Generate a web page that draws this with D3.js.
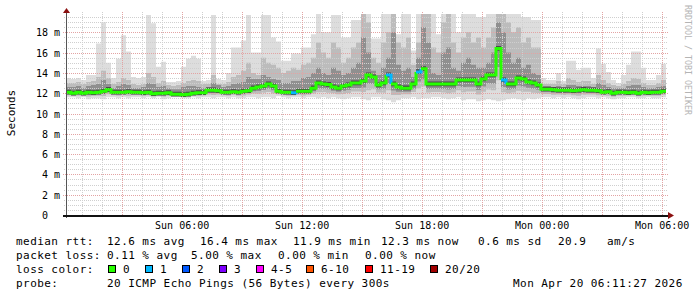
<!DOCTYPE html>
<html>
<head>
<meta charset="utf-8">
<style>
  body { margin: 0; background: #fff; }
  svg text { font-family: 'DejaVu Sans Mono', monospace; fill: #000; }
  .axis-label { font-size: 10px; }
  .legend { font-size: 11px; letter-spacing: 0.45px; }
</style>
</head>
<body>
<div id="chart"></div>
<script src="https://cdn.jsdelivr.net/npm/d3@7"></script>
<script>
const width = 697, height = 297
const plot = {left: 66, right: 666, top: 12, bottom: 215}

// 30 hours ending at the graph timestamp, one value every 15 minutes
const endTime = new Date(2026, 3, 20, 6, 11, 27)
const startTime = d3.timeHour.offset(endTime, -30)
const stepMinutes = 15

// median rtt (ms)
const medianRtt = [
  12.1, 12.0, 12.1, 12.0, 12.1, 12.05, 12.1, 12.2, 12.35, 12.1,
  12.1, 12.1, 12.15, 12.1, 12.1, 12.05, 12.1, 11.95, 12.0, 12.0,
  12.05, 11.9, 11.9, 11.85, 11.9, 12.0, 12.05, 12.05, 12.3, 12.3,
  12.25, 12.1, 12.1, 12.15, 12.1, 12.2, 12.25, 12.5, 12.6, 12.7,
  12.9, 12.7, 12.2, 12.1, 12.1, 12.05, 12.2, 12.2, 12.2, 12.5,
  13.0, 12.9, 12.85, 12.6, 12.5, 12.7, 12.8, 13.0, 13.0, 13.2,
  13.8, 13.6, 12.8, 13.0, 13.8, 12.9, 12.6, 12.5, 12.5, 12.9,
  14.1, 14.4, 12.9, 12.9, 12.9, 12.9, 12.9, 12.9, 13.3, 13.3,
  13.3, 13.3, 12.9, 13.4, 13.8, 13.8, 16.4, 13.3, 12.9, 12.9,
  13.5, 13.4, 13.1, 13.0, 12.8, 12.4, 12.4, 12.35, 12.3, 12.3,
  12.3, 12.25, 12.3, 12.35, 12.3, 12.3, 12.25, 12.1, 12.15, 12.0,
  12.1, 12.1, 12.05, 12.1, 12.0, 12.1, 12.05, 12.1, 12.1, 12.2
]

// lost pings out of 20
const lossCount = [
  0, 0, 0, 0, 0, 0, 0, 0, 0, 0,
  0, 0, 0, 0, 0, 0, 0, 0, 0, 0,
  0, 0, 0, 0, 0, 0, 0, 0, 0, 0,
  0, 0, 0, 0, 0, 0, 0, 0, 0, 0,
  0, 0, 0, 0, 0, 1, 0, 0, 0, 0,
  0, 0, 0, 0, 0, 0, 0, 0, 0, 0,
  0, 0, 0, 0, 1, 0, 0, 0, 0, 0,
  1, 0, 0, 0, 0, 0, 0, 0, 0, 0,
  0, 0, 0, 0, 0, 0, 0, 1, 0, 0,
  0, 0, 0, 0, 0, 0, 0, 0, 0, 0,
  0, 0, 0, 0, 0, 0, 0, 0, 0, 0,
  0, 0, 0, 0, 0, 0, 0, 0, 0, 0
]

// fastest ping
const pingMin = [
  11.6, 11.6, 11.5, 11.6, 11.4, 11.5, 11.5, 11.4, 11.6, 11.6,
  11.5, 11.6, 11.5, 11.6, 11.6, 11.5, 11.6, 11.5, 11.6, 11.4,
  11.5, 11.6, 11.6, 11.5, 11.5, 11.6, 11.5, 11.6, 11.6, 11.5,
  11.6, 11.6, 11.5, 11.6, 11.5, 11.5, 11.6, 11.6, 11.5, 11.6,
  11.6, 11.5, 11.7, 11.6, 11.5, 11.6, 11.6, 11.5, 11.6, 11.6,
  11.5, 11.6, 11.5, 11.6, 11.5, 11.4, 11.5, 11.6, 11.6, 11.4,
  11.3, 11.6, 11.6, 11.4, 11.3, 11.1, 11.3, 11.5, 11.5, 11.6,
  11.4, 11.5, 11.5, 11.6, 11.6, 11.5, 11.4, 11.5, 11.6, 11.3,
  11.4, 11.4, 11.2, 11.3, 11.4, 11.3, 11.2, 11.3, 11.4, 11.5,
  11.4, 11.3, 11.5, 11.4, 11.5, 11.6, 11.6, 11.5, 11.6, 11.5,
  11.6, 11.5, 11.4, 11.5, 11.6, 11.6, 11.5, 11.6, 11.5, 11.4,
  11.5, 11.5, 11.6, 11.6, 11.5, 11.5, 11.6, 11.5, 11.5, 11.6
]

// 15th of 20 pings
const pingP75 = [
  12.6, 12.6, 12.7, 12.5, 12.7, 12.8, 12.9, 13.3, 12.9, 12.5,
  12.7, 12.9, 12.8, 12.5, 12.5, 12.6, 13.0, 12.9, 12.6, 12.7,
  12.5, 12.4, 12.4, 12.6, 12.7, 12.7, 12.6, 12.5, 12.6, 13.0,
  12.8, 12.6, 12.7, 12.9, 13.0, 13.1, 13.6, 13.4, 13.4, 13.8,
  13.6, 13.4, 13.3, 13.0, 13.0, 13.2, 13.2, 13.5, 13.6, 14.0,
  14.5, 14.0, 13.8, 14.5, 14.2, 13.8, 14.0, 14.5, 15.0, 17.5,
  16.0, 14.2, 13.8, 14.5, 15.5, 18.0, 14.8, 14.2, 14.5, 13.6,
  15.5, 18.5, 17.0, 14.0, 13.8, 16.0, 16.5, 14.5, 14.2, 15.0,
  15.5, 14.8, 14.5, 14.5, 15.0, 16.0, 19.0, 18.0, 16.0, 15.0,
  15.5, 14.5, 14.8, 14.0, 13.8, 12.6, 12.6, 12.6, 12.7, 12.6,
  12.8, 12.8, 12.7, 12.7, 12.7, 12.6, 13.0, 12.8, 12.6, 12.5,
  12.5, 12.5, 12.7, 12.8, 12.8, 12.6, 12.5, 12.5, 12.6, 12.7
]

// 18th of 20 pings
const pingP90 = [
  13.0, 13.0, 13.1, 12.9, 13.1, 13.2, 13.6, 14.2, 13.5, 12.9,
  13.1, 13.5, 13.3, 12.9, 12.8, 12.9, 14.0, 13.6, 13.0, 13.2,
  12.8, 12.7, 12.8, 13.0, 13.2, 13.3, 13.2, 12.9, 12.9, 13.8,
  12.9, 12.9, 13.1, 13.6, 13.8, 14.2, 15.0, 14.0, 13.8, 15.5,
  15.0, 14.8, 14.5, 14.0, 14.2, 14.5, 14.3, 14.8, 15.0, 15.5,
  17.0, 16.0, 15.5, 17.0, 16.5, 15.0, 15.5, 16.5, 17.0, 19.8,
  19.0, 15.5, 15.0, 17.0, 18.0, 19.8, 17.0, 16.5, 17.5, 14.8,
  17.0, 19.8, 19.8, 16.5, 16.0, 19.0, 19.8, 17.0, 16.0, 17.5,
  18.0, 17.0, 17.5, 16.5, 17.5, 18.5, 19.8, 19.8, 19.0, 18.0,
  18.5, 17.0, 17.5, 16.5, 16.5, 12.9, 12.9, 12.9, 13.2, 12.9,
  13.5, 13.3, 13.1, 13.2, 13.2, 12.9, 13.8, 13.3, 13.0, 12.8,
  12.7, 12.9, 13.2, 13.5, 13.4, 13.0, 12.8, 12.8, 13.0, 13.3
]

// slowest ping
const pingMax = [
  13.5, 13.4, 13.5, 13.3, 13.8, 13.8, 16.9, 19.0, 15.0, 13.5,
  15.4, 17.7, 16.1, 13.6, 13.5, 13.6, 19.7, 18.9, 14.6, 15.1,
  13.1, 13.1, 13.2, 14.6, 15.4, 15.7, 15.4, 13.2, 13.3, 19.7,
  13.4, 13.3, 14.0, 16.5, 16.5, 17.2, 19.7, 16.0, 16.0, 19.7,
  19.7, 17.5, 17.1, 15.2, 15.2, 15.9, 15.9, 16.5, 16.5, 17.8,
  19.8, 18.0, 18.0, 19.7, 19.7, 17.5, 17.5, 19.2, 19.2, 19.8,
  19.8, 17.4, 17.4, 19.8, 19.8, 19.8, 17.8, 19.8, 19.8, 16.2,
  19.8, 19.8, 19.8, 19.8, 17.8, 19.8, 19.8, 19.8, 18.0, 19.8,
  19.8, 19.8, 19.5, 19.5, 19.8, 19.8, 19.8, 19.8, 19.8, 19.8,
  19.8, 19.5, 19.5, 19.2, 19.2, 13.5, 13.3, 13.3, 14.0, 13.2,
  15.2, 15.2, 14.3, 14.5, 14.5, 13.5, 16.4, 14.9, 14.1, 13.3,
  13.0, 13.8, 14.8, 16.1, 16.1, 14.5, 13.3, 13.3, 13.8, 14.9
]

const yTicks = [0, 2, 4, 6, 8, 10, 12, 14, 16, 18]

const lossLabels = ['0', '1', '2', '3', '4-5', '6-10', '11-19', '20/20']
const lossColors = ['#26ff00', '#00b8ff', '#0059ff', '#7e00ff', '#ff00ff', '#ff5500', '#ff0000', '#a10000']

const legendRows = [
  [[16, 'median rtt:'], [107, '12.6 ms avg'], [200, '16.4 ms max'], [293, '11.9 ms min'], [381, '12.3 ms now'], [478, '0.6 ms sd'], [558, '20.9'], [607, 'am/s']],
  [[16, 'packet loss:'], [107, '0.11 % avg'], [191, '5.00 % max'], [278, '0.00 % min'], [365, '0.00 % now']],
  [[16, 'loss color:']],
  [[16, 'probe:'], [107, '20 ICMP Echo Pings (56 Bytes) every 300s'], [513, 'Mon Apr 20 06:11:27 2026']]
]

function lossBucket(n) {
  if (n <= 3) return n
  if (n <= 5) return 4
  if (n <= 10) return 5
  if (n <= 19) return 6
  return 7
}

const times = d3.range(medianRtt.length + 1).map(i => d3.timeMinute.offset(startTime, i * stepMinutes))
const last = medianRtt.length - 1
const at = i => Math.min(i, last)

const x = d3.scaleTime().domain([startTime, endTime]).range([plot.left, plot.right])
const y = d3.scaleLinear().domain([0, 20]).range([plot.bottom, plot.top]).clamp(true)

const svg = d3.select('#chart').append('svg')
  .attr('width', width)
  .attr('height', height)

svg.append('rect').attr('width', width).attr('height', height).attr('fill', '#fff')

svg.append('clipPath').attr('id', 'clip')
  .append('rect')
  .attr('x', plot.left).attr('y', plot.top)
  .attr('width', plot.right - plot.left).attr('height', plot.bottom - plot.top)

// smoke: lighter outside, darker toward the median
const bands = [
  {color: '#dddddd', lo: i => pingMin[i], hi: i => pingMax[i]},
  {color: '#bcbcbc', lo: i => medianRtt[i] - 0.6 * (medianRtt[i] - pingMin[i]), hi: i => pingP90[i]},
  {color: '#8f8f8f', lo: i => medianRtt[i] - 0.35 * (medianRtt[i] - pingMin[i]), hi: i => pingP75[i]},
  {color: '#4a4a4a', lo: i => medianRtt[i] - 0.22, hi: i => medianRtt[i] + 0.25}
]

const smoke = svg.append('g').attr('clip-path', 'url(#clip)')
bands.forEach(b => {
  const area = d3.area()
    .x(i => x(times[i]))
    .y0(i => y(b.lo(at(i))))
    .y1(i => y(b.hi(at(i))))
    .curve(d3.curveStepAfter)
  smoke.append('path')
    .attr('d', area(d3.range(times.length)))
    .attr('fill', b.color)
})

// grid
const grid = svg.append('g').attr('shape-rendering', 'crispEdges')
const majorHours = x.ticks(d3.timeHour.every(3))
const minorHours = x.ticks(d3.timeHour.every(1)).filter(d => d.getHours() % 3 !== 0)
const minorMs = d3.range(0.5, 20, 0.5).filter(v => v % 2 !== 0)
const majorMs = yTicks.filter(v => v > 0)

grid.selectAll('.hminor').data(minorMs).enter().append('line')
  .attr('x1', plot.left - 2).attr('x2', plot.right + 2)
  .attr('y1', d => Math.round(y(d)) + 0.5).attr('y2', d => Math.round(y(d)) + 0.5)
  .attr('stroke', '#cfcfcf').attr('stroke-dasharray', '1,1')
grid.selectAll('.vminor').data(minorHours).enter().append('line')
  .attr('x1', d => Math.round(x(d)) + 0.5).attr('x2', d => Math.round(x(d)) + 0.5)
  .attr('y1', plot.top).attr('y2', plot.bottom + 2)
  .attr('stroke', '#cfcfcf').attr('stroke-dasharray', '1,1')
grid.selectAll('.hmajor').data(majorMs).enter().append('line')
  .attr('x1', plot.left - 3).attr('x2', plot.right + 2)
  .attr('y1', d => Math.round(y(d)) + 0.5).attr('y2', d => Math.round(y(d)) + 0.5)
  .attr('stroke', '#e3a3a3').attr('stroke-dasharray', '1,1')
grid.selectAll('.vmajor').data(majorHours).enter().append('line')
  .attr('x1', d => Math.round(x(d)) + 0.5).attr('x2', d => Math.round(x(d)) + 0.5)
  .attr('y1', plot.top).attr('y2', plot.bottom + 3)
  .attr('stroke', '#e3a3a3').attr('stroke-dasharray', '1,1')

// median line, one path per run of equal loss colour
const runs = []
medianRtt.forEach((v, i) => {
  const b = lossBucket(lossCount[i])
  const cur = runs[runs.length - 1]
  if (cur && cur.bucket === b) cur.end = i
  else runs.push({bucket: b, start: i, end: i})
})
const medianLine = d3.line()
  .x(i => x(times[i]))
  .y(i => y(medianRtt[at(i)]))
  .curve(d3.curveStepAfter)
const lineG = svg.append('g').attr('clip-path', 'url(#clip)')
runs.forEach(r => {
  const idx = d3.range(r.start, r.end + 1)
  idx.push(r.end + 1)
  lineG.append('path')
    .attr('d', medianLine(idx.map(i => i)).replace(/NaN/g, '0'))
    .attr('fill', 'none')
    .attr('stroke', lossColors[r.bucket])
    .attr('stroke-width', 3)
})

// axes
svg.append('line')
  .attr('x1', plot.left + 0.5).attr('x2', plot.left + 0.5)
  .attr('y1', plot.bottom + 3).attr('y2', plot.top)
  .attr('stroke', '#555').attr('shape-rendering', 'crispEdges')
svg.append('line')
  .attr('x1', plot.left - 3).attr('x2', plot.right + 2)
  .attr('y1', plot.bottom + 0.5).attr('y2', plot.bottom + 0.5)
  .attr('stroke', '#111').attr('stroke-width', 2).attr('shape-rendering', 'crispEdges')
svg.append('path')
  .attr('d', `M${plot.left - 3},${plot.top + 1} L${plot.left + 0.5},${plot.top - 4} L${plot.left + 4},${plot.top + 1} Z`)
  .attr('fill', '#8b1010')
svg.append('path')
  .attr('d', `M${plot.right + 2},${plot.bottom - 3} L${plot.right + 8},${plot.bottom + 0.5} L${plot.right + 2},${plot.bottom + 4} Z`)
  .attr('fill', '#8b1010')

// y labels
const yl = svg.append('g').attr('class', 'axis-label')
yl.selectAll('.num').data(yTicks).enter().append('text')
  .attr('x', 48).attr('y', d => Math.round(y(d)) + 4)
  .attr('text-anchor', 'end')
  .text(d => d)
yl.selectAll('.unit').data(yTicks.filter(d => d > 0)).enter().append('text')
  .attr('x', 54).attr('y', d => Math.round(y(d)) + 4)
  .text('m')

// x labels
const fmt = d3.timeFormat('%a %H:%M')
svg.append('g').attr('class', 'axis-label')
  .selectAll('text')
  .data(x.ticks(d3.timeHour.every(6)))
  .enter().append('text')
  .attr('x', d => x(d)).attr('y', 228.5)
  .attr('text-anchor', 'middle')
  .text(d => fmt(d))

svg.append('text')
  .attr('transform', 'translate(15,113) rotate(-90)')
  .attr('text-anchor', 'middle')
  .style('font-size', '11px')
  .text('Seconds')

svg.append('text')
  .attr('transform', 'translate(684.5,5) rotate(90)')
  .style('font-size', '8.3px')
  .style('fill', '#b4b4b4')
  .text('RRDTOOL / TOBI OETIKER')

// legend
const legend = svg.append('g').attr('class', 'legend')
legendRows.forEach((row, r) => {
  row.forEach(([lx, t]) => {
    legend.append('text')
      .attr('x', lx).attr('y', 245 + r * 14)
      .attr('xml:space', 'preserve')
      .text(t)
  })
})
const boxX = [108.5, 145.5, 182.5, 219.5, 256.5, 306.5, 365.5, 430.5]
lossLabels.forEach((lab, k) => {
  legend.append('rect')
    .attr('x', boxX[k]).attr('y', 265.5)
    .attr('width', 7).attr('height', 7)
    .attr('fill', lossColors[k]).attr('stroke', '#000')
  legend.append('text')
    .attr('x', boxX[k] + 14.5).attr('y', 273)
    .text(lab)
})
</script>
</body>
</html>
